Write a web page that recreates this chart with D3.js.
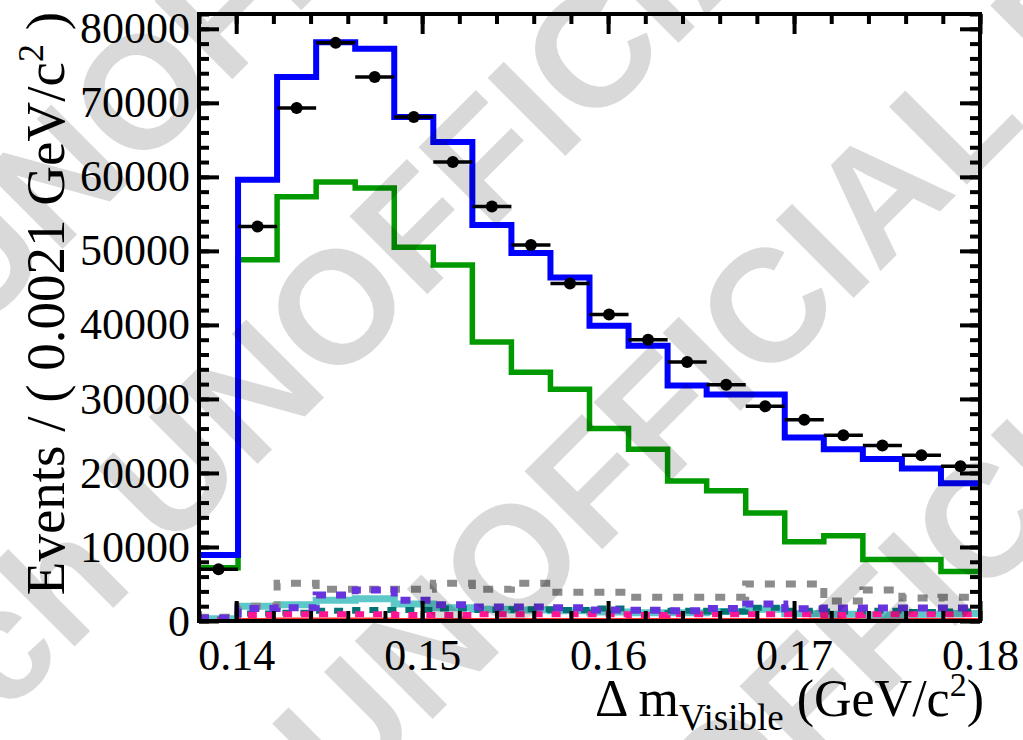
<!DOCTYPE html>
<html>
<head>
<meta charset="utf-8">
<script src="https://cdn.jsdelivr.net/npm/d3@7/dist/d3.min.js"></script>
<style>
  html, body { margin: 0; padding: 0; background: #fff; }
  svg { display: block; }
</style>
</head>
<body>
<script>
// 20 bins of 0.0021 GeV/c^2, from 0.138 to 0.18
var binLow = 0.138, binWidth = 0.0021, nBins = 20;

var dataCounts  = [7000, 53300, 69300, 78100, 73500, 68100, 62000, 56000, 50800, 45600,
                   41400, 38000, 35000, 31900, 29000, 27200, 25100, 23700, 22400, 20900];
var totalFit    = [8900, 59600, 73500, 78200, 77300, 68100, 64700, 53500, 49700, 46400,
                   39900, 37200, 31800, 30600, 30600, 24800, 23200, 21900, 20600, 18600];
var signalFit   = [7200, 48800, 57300, 59300, 58500, 50500, 48100, 37700, 33600, 31300,
                   26000, 23200, 18900, 17600, 14600, 10700, 11500, 8300, 8300, 6700];
var bkgGray     = [500, 2000, 5100, 4300, 4300, 4300, 5100, 4300, 5100, 3900,
                   3900, 3200, 3200, 3200, 5000, 5000, 2700, 4200, 3100, 3200];
var bkgPurple   = [400, 1700, 1800, 3500, 4200, 2800, 2200, 1900, 1900, 1800,
                   1500, 1450, 1400, 1700, 2300, 1650, 1750, 1750, 1750, 1750];
var bkgTeal     = [300, 2000, 2200, 2800, 3000, 2300, 1800, 1600, 1500, 1400,
                   1200, 1100, 1100, 1300, 1600, 1000, 900, 800, 900, 1000];
var bkgDarkTeal = [200, 1000, 1100, 1400, 1500, 1500, 1700, 1500, 1600, 1500,
                   1700, 1500, 1400, 1300, 1800, 1400, 1300, 1400, 1200, 1300];
var bkgPink     = [100, 800, 900, 900, 900, 800, 800, 900, 900, 900,
                   900, 800, 900, 900, 900, 900, 800, 900, 900, 900];
var bkgRed      = [50, 150, 200, 200, 200, 150, 150, 150, 150, 150,
                   150, 150, 150, 150, 150, 150, 150, 150, 150, 150];

var xTicks = [0.14, 0.15, 0.16, 0.17, 0.18];
var yTicks = [0, 10000, 20000, 30000, 40000, 50000, 60000, 70000, 80000];

var W = 1023, H = 740;
var plot = {left: 199, right: 980, top: 14, bottom: 621};

var svg = d3.select('body').append('svg')
  .attr('width', W)
  .attr('height', H);

var x = d3.scaleLinear().domain([0.138, 0.18]).range([plot.left, plot.right]);
var y = d3.scaleLinear().domain([0, 82000]).range([plot.bottom, plot.top]);

var edges = d3.range(nBins + 1).map(function(i) { return binLow + i * binWidth; });
var centers = d3.range(nBins).map(function(i) { return binLow + (i + 0.5) * binWidth; });

svg.append('defs').append('clipPath').attr('id', 'frame')
  .append('rect')
  .attr('x', plot.left).attr('y', plot.top)
  .attr('width', plot.right - plot.left)
  .attr('height', plot.bottom - plot.top);

var step = d3.line()
  .x(function(d) { return x(d[0]); })
  .y(function(d) { return y(d[1]); })
  .curve(d3.curveStepAfter);

var stepPoints = function(vals) {
  return edges.map(function(e, i) { return [e, vals[Math.min(i, vals.length - 1)]]; });
};

var layers = svg.append('g').attr('clip-path', 'url(#frame)');

var components = [
  {vals: bkgRed, color: '#ff3030', width: 4, dash: null},
  {vals: bkgTeal, color: '#5cc8c8', width: 7, dash: null},
  {vals: bkgDarkTeal, color: '#007474', width: 6, dash: '9,9'},
  {vals: bkgPink, color: '#ff1493', width: 6, dash: '9,9'},
  {vals: bkgGray, color: '#8c8c8c', width: 7, dash: '10,11'},
  {vals: bkgPurple, color: '#6633dd', width: 7, dash: '10,10'},
  {vals: signalFit, color: '#009a00', width: 5.5, dash: null},
  {vals: totalFit, color: '#0000ff', width: 6, dash: null}
];

components.forEach(function(c) {
  layers.append('path')
    .attr('d', step(stepPoints(c.vals)))
    .attr('fill', 'none')
    .attr('stroke', c.color)
    .attr('stroke-width', c.width)
    .attr('stroke-dasharray', c.dash)
    .attr('stroke-linejoin', 'miter');
});

// data points with error bars
var pts = layers.append('g').selectAll('g')
  .data(dataCounts)
  .enter().append('g');

pts.append('line')
  .attr('x1', function(d, i) { return x(edges[i]); })
  .attr('x2', function(d, i) { return x(edges[i + 1]); })
  .attr('y1', function(d) { return y(d); })
  .attr('y2', function(d) { return y(d); })
  .attr('stroke', '#000')
  .attr('stroke-width', 3.5);

pts.append('line')
  .attr('x1', function(d, i) { return x(centers[i]); })
  .attr('x2', function(d, i) { return x(centers[i]); })
  .attr('y1', function(d) { return y(d - Math.sqrt(d)); })
  .attr('y2', function(d) { return y(d + Math.sqrt(d)); })
  .attr('stroke', '#000')
  .attr('stroke-width', 3.5);

pts.append('circle')
  .attr('cx', function(d, i) { return x(centers[i]); })
  .attr('cy', function(d) { return y(d); })
  .attr('r', 6)
  .attr('fill', '#000');

// axes: ticks point into the frame, ROOT style
var axisFont = 'Liberation Serif, Times New Roman, serif';
var xMinor = d3.range(0, 22).map(function(i) { return 0.138 + i * 0.002; })
  .filter(function(v) { return v < 0.1801; });
var yMinor = d3.range(0, 42).map(function(i) { return i * 2000; });

var styleAxis = function(g) {
  g.select('.domain').remove();
  g.selectAll('.tick line').attr('stroke', '#000').attr('stroke-width', 4);
  g.selectAll('text').attr('fill', '#000').style('font-family', axisFont).style('font-size', '44px');
};

svg.append('g').attr('transform', 'translate(0,' + plot.bottom + ')')
  .call(d3.axisBottom(x).tickValues(xMinor).tickSize(-10).tickFormat(''))
  .call(styleAxis);
svg.append('g').attr('transform', 'translate(0,' + plot.bottom + ')')
  .call(d3.axisBottom(x).tickValues(xTicks).tickSize(-20).tickPadding(18).tickFormat(d3.format('.2f')))
  .call(styleAxis);
svg.append('g').attr('transform', 'translate(0,' + plot.top + ')')
  .call(d3.axisTop(x).tickValues(xMinor).tickSize(-10).tickFormat(''))
  .call(styleAxis);
svg.append('g').attr('transform', 'translate(0,' + plot.top + ')')
  .call(d3.axisTop(x).tickValues(xTicks).tickSize(-20).tickFormat(''))
  .call(styleAxis);

svg.append('g').attr('transform', 'translate(' + plot.left + ',0)')
  .call(d3.axisLeft(y).tickValues(yMinor).tickSize(-10).tickFormat(''))
  .call(styleAxis);
svg.append('g').attr('transform', 'translate(' + plot.left + ',0)')
  .call(d3.axisLeft(y).tickValues(yTicks).tickSize(-20).tickPadding(9).tickFormat(d3.format('d')))
  .call(styleAxis);
svg.append('g').attr('transform', 'translate(' + plot.right + ',0)')
  .call(d3.axisRight(y).tickValues(yMinor).tickSize(-10).tickFormat(''))
  .call(styleAxis);
svg.append('g').attr('transform', 'translate(' + plot.right + ',0)')
  .call(d3.axisRight(y).tickValues(yTicks).tickSize(-20).tickFormat(''))
  .call(styleAxis);

svg.append('rect')
  .attr('x', plot.left).attr('y', plot.top)
  .attr('width', plot.right - plot.left)
  .attr('height', plot.bottom - plot.top)
  .attr('fill', 'none')
  .attr('stroke', '#000')
  .attr('stroke-width', 4);

// axis titles
var xTitle = svg.append('text')
  .attr('x', 984).attr('y', 716)
  .attr('text-anchor', 'end')
  .style('font-family', axisFont)
  .style('font-size', '52px');
xTitle.append('tspan').text('\u0394 m');
xTitle.append('tspan').attr('dy', 14).style('font-size', '37px').text('Visible');
xTitle.append('tspan').attr('dy', -14).text(' (GeV/c');
xTitle.append('tspan').attr('dy', -20).style('font-size', '34px').text('2');
xTitle.append('tspan').attr('dy', 20).text(')');

var yTitle = svg.append('text')
  .attr('transform', 'translate(64,12) rotate(-90)')
  .attr('text-anchor', 'end')
  .style('font-family', axisFont)
  .style('font-size', '55px');
yTitle.append('tspan').text('Events / ( 0.0021 GeV/c');
yTitle.append('tspan').attr('dy', -21).style('font-size', '36px').text('2');
yTitle.append('tspan').attr('dy', 21).text(' )');

// watermark laid over everything
var wmCenters = [[275, -45], [470, 170], [645, 425], [860, 640]];
var wm = svg.append('g')
  .style('font-family', 'Liberation Sans, Arial, sans-serif')
  .style('font-weight', 'bold')
  .style('font-size', '160px')
  .attr('fill', '#000')
  .attr('fill-opacity', 0.15);

wmCenters.forEach(function(c) {
  var g = wm.append('g').attr('transform', 'translate(' + c[0] + ',' + c[1] + ') rotate(-45)');
  g.append('text').attr('text-anchor', 'middle').attr('dy', '0.36em').text('UNOFFICIAL');
  g.append('text').attr('text-anchor', 'end').attr('x', -530).attr('dy', '0.36em').text('Research');
  g.append('text').attr('text-anchor', 'start').attr('x', 530).attr('dy', '0.36em').text('Research');
});
</script>
</body>
</html>
